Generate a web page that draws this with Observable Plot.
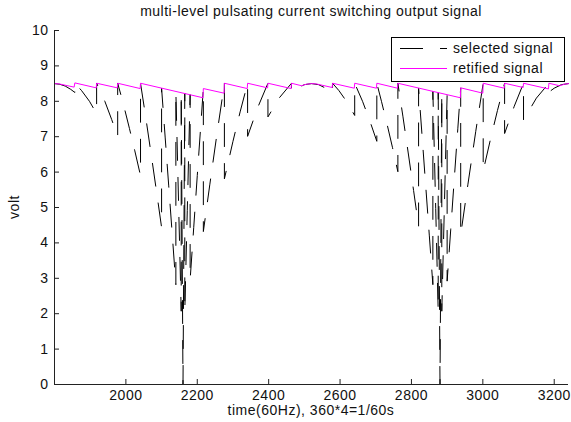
<!DOCTYPE html>
<html>
<head>
<meta charset="utf-8">
<script src="https://cdn.jsdelivr.net/npm/d3@7"></script>
<script src="https://cdn.jsdelivr.net/npm/@observablehq/plot@0.6"></script>
<style>
  html, body { margin: 0; padding: 0; background: #fff; }
  #chart { width: 571px; height: 422px; }
</style>
</head>
<body>
<div id="chart"></div>
<script>
// ---------- chart data ----------
const chartTitle = "multi-level pulsating current switching output signal";
const xLabel = "time(60Hz), 360*4=1/60s";
const yLabel = "volt";
const legendLabels = ["selected signal", "retified signal"];

const timeDomain = [1800, 3240];
const voltDomain = [0, 10];
const timeTicks = [2000, 2200, 2400, 2600, 2800, 3000, 3200];
const voltTicks = [0, 1, 2, 3, 4, 5, 6, 7, 8, 9, 10];

// rectified (magenta) signal: [time, volt]
const rectifiedSignal = [
  [1800,8.50],[1814,8.49],[1855,8.40],[1857,8.52],
  [1917,8.38],[1918,8.51],
  [1976,8.38],[1977,8.51],
  [2040,8.36],[2041,8.51],
  [2216,8.10],[2217,8.36],
  [2275,8.23],[2276,8.51],
  [2340,8.36],[2341,8.51],
  [2397,8.38],[2398,8.51],
  [2463,8.36],[2464,8.51],
  [2492,8.44],[2505,8.48],[2520,8.50],[2534,8.49],
  [2578,8.39],[2579,8.51],
  [2640,8.37],[2641,8.51],
  [2702,8.37],[2703,8.51],
  [2761,8.37],[2762,8.51],
  [2937,8.10],[2938,8.38],
  [3000,8.23],[3001,8.51],
  [3060,8.37],[3061,8.51],
  [3113,8.39],[3114,8.51],
  [3184,8.35],[3185,8.51],
  [3215,8.44],[3228,8.48],[3240,8.50]
];

// selected (black) signal, first half-cycle: [time, volt]
const selectedFirstDip = [
  [1800,8.50],[1815,8.48],[1830,8.43],[1845,8.34],[1857,8.25],
  [1857,8.52],[1876,8.30],[1898,8.00],[1918,7.65],
  [1918,8.51],[1941,8.00],[1960,7.49],[1977,7.00],
  [1977,8.51],[1991,8.00],[2010,7.23],[2025,6.60],[2041,5.90],
  [2041,8.51],[2055,7.59],[2070,6.56],[2085,5.51],[2100,4.44],
  [2100,8.37],[2110,6.99],[2120,5.61],[2130,4.22],[2140,2.82],
  [2140,8.28],[2148,4.97],[2155,2.07],
  [2155,8.24],[2160,0.00],
  [2165,8.23],
  [2165,2.07],[2172,4.92],[2180,8.19],
  [2180,2.96],[2190,4.43],[2200,5.90],[2210,7.35],[2217,8.36],
  [2217,4.32],[2235,5.64],[2255,7.07],[2276,8.51],
  [2276,5.81],[2300,6.87],[2320,7.70],[2341,8.51],
  [2341,7.01],[2370,7.84],[2398,8.51],
  [2398,7.56],[2430,8.10],[2464,8.51]
];
// selected signal, crest between the dips
const selectedMiddleHump = [
  [2464,8.25],[2480,8.37],[2500,8.47],[2520,8.50],[2540,8.47],[2560,8.37],[2579,8.22]
];
// selected signal, second half-cycle
const selectedSecondDip = [
  [2579,8.51],[2597,8.30],[2618,8.00],[2641,7.60],
  [2641,8.51],[2663,8.00],[2683,7.46],[2703,6.87],
  [2703,8.51],[2716,8.00],[2732,7.34],[2747,6.69],[2762,6.01],
  [2762,8.51],[2776,7.58],[2791,6.54],[2806,5.48],[2820,4.47],
  [2820,8.37],[2830,6.99],[2840,5.61],[2850,4.22],[2860,2.82],
  [2860,8.28],[2868,4.97],[2875,2.07],
  [2875,8.24],[2880,0.00],
  [2885,8.23],
  [2885,2.07],[2892,4.92],[2900,8.19],
  [2900,2.92],[2910,4.37],[2920,5.81],[2930,7.24],[2938,8.38],
  [2938,4.23],[2958,5.64],[2980,7.14],[3001,8.51],
  [3001,6.03],[3021,6.91],[3041,7.74],[3061,8.51],
  [3061,7.09],[3088,7.86],[3114,8.51],
  [3114,7.47],[3150,8.09],[3185,8.51]
];
// selected signal, final crest
const selectedEndArc = [
  [3185,8.26],[3200,8.37],[3220,8.47],[3240,8.50]
];

// ---------- build tables for the library ----------
const selectedRows = [...selectedFirstDip, ...selectedMiddleHump, ...selectedSecondDip, ...selectedEndArc]
  .map(([t, v]) => ({t, v}));
const rectifiedRows = rectifiedSignal.map(([t, v]) => ({t, v}));

const FONT = "'Liberation Sans', Arial, Helvetica, sans-serif";
const W = 571, H = 422;
const M = {top: 30, right: 3, bottom: 38, left: 54};
const frameW = W - M.left - M.right, frameH = H - M.top - M.bottom;
const axisColor = "#222";
const DASH = "23,17";

const plot = Plot.plot({
  width: W, height: H,
  marginTop: M.top, marginRight: M.right, marginBottom: M.bottom, marginLeft: M.left,
  style: {fontFamily: FONT, fontSize: "14px", background: "#fff", color: "#111", letterSpacing: "0.5px", overflow: "visible"},
  x: {domain: timeDomain},
  y: {domain: voltDomain},
  marks: [
    Plot.line(selectedRows, {x: "t", y: "v", stroke: "#000", strokeWidth: 1, strokeDasharray: DASH}),
    Plot.line(rectifiedRows, {x: "t", y: "v", stroke: "#ff00ff", strokeWidth: 1}),
    Plot.ruleY([voltDomain[0]], {stroke: axisColor, strokeWidth: 1}),
    Plot.ruleX([timeDomain[0]], {stroke: axisColor, strokeWidth: 1}),
    Plot.tickX(timeTicks, {x: d => d, insetTop: frameH - 5, stroke: axisColor}),
    Plot.tickY(voltTicks, {y: d => d, insetRight: frameW - 5, stroke: axisColor}),
    Plot.axisX(timeTicks, {tickSize: 0, tickPadding: 6, label: null, fontSize: 14, tickFormat: d => String(d)}),
    Plot.axisY(voltTicks, {tickSize: 0, tickPadding: 6, label: null, fontSize: 14, tickFormat: d => String(d)})
  ]
});

const svg = d3.select(plot);
const textStyle = s => s.attr("font-family", FONT).attr("font-size", 14).attr("fill", "#111").style("letter-spacing", "0.5px");

// title
svg.append("text").call(textStyle)
  .attr("x", M.left + frameW / 2).attr("y", 16).attr("text-anchor", "middle").text(chartTitle);
// x label
svg.append("text").call(textStyle)
  .attr("x", M.left + frameW / 2).attr("y", 415).attr("text-anchor", "middle").text(xLabel);
// y label
svg.append("text").call(textStyle)
  .attr("transform", `translate(19,${M.top + frameH / 2}) rotate(-90)`)
  .attr("text-anchor", "middle").text(yLabel);

// legend
const lg = svg.append("g");
lg.append("rect").attr("x", 391.5).attr("y", 37.5).attr("width", 173).attr("height", 44)
  .attr("fill", "#fff").attr("stroke", "#000").attr("stroke-width", 1);
lg.append("line").attr("x1", 400).attr("x2", 447).attr("y1", 48.5).attr("y2", 48.5)
  .attr("stroke", "#000").attr("stroke-width", 1).attr("stroke-dasharray", DASH);
lg.append("line").attr("x1", 400).attr("x2", 447).attr("y1", 68.5).attr("y2", 68.5)
  .attr("stroke", "#ff00ff").attr("stroke-width", 1);
lg.append("text").call(textStyle).attr("text-anchor", "start").attr("x", 453).attr("y", 53).text(legendLabels[0]);
lg.append("text").call(textStyle).attr("text-anchor", "start").attr("x", 453).attr("y", 73).text(legendLabels[1]);

document.getElementById("chart").appendChild(plot);
</script>
</body>
</html>
